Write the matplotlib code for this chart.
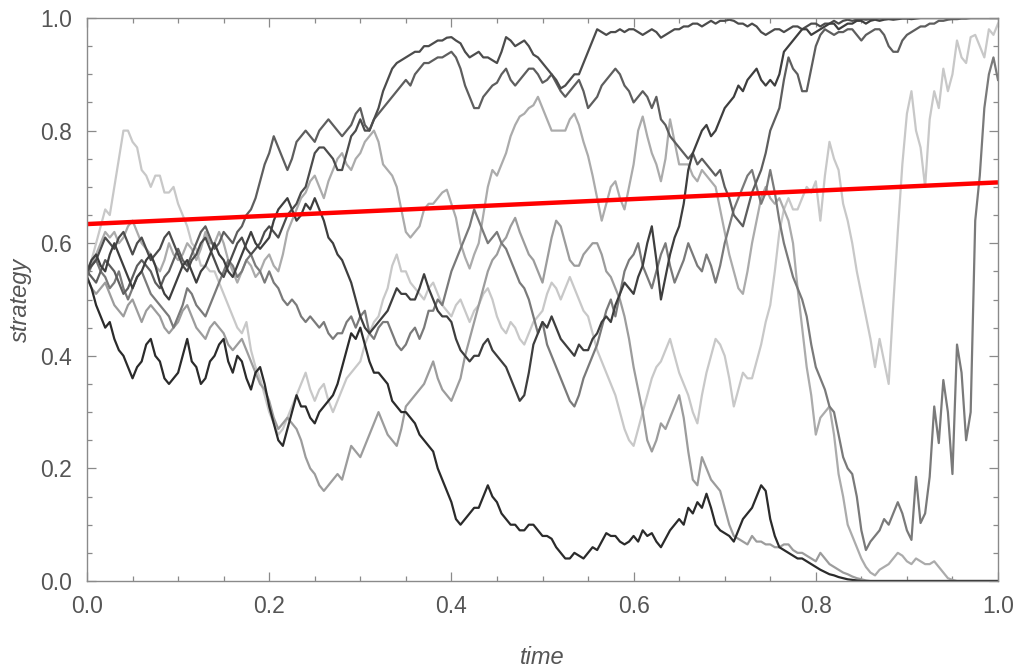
import numpy as np
import matplotlib
matplotlib.use("Agg")
import matplotlib.pyplot as plt
from matplotlib.ticker import MultipleLocator

# time grid, one sample every 0.005
t = np.linspace(0, 1, 201)

# strategy paths, darkest first
path_a = [
    0.54, 0.52, 0.49, 0.47, 0.45, 0.46, 0.43, 0.41, 0.40, 0.38,
    0.36, 0.38, 0.39, 0.42, 0.43, 0.40, 0.39, 0.36, 0.35, 0.36,
    0.37, 0.40, 0.43, 0.39, 0.38, 0.35, 0.36, 0.39, 0.40, 0.42,
    0.43, 0.39, 0.37, 0.40, 0.39, 0.36, 0.34, 0.37, 0.38, 0.35,
    0.31, 0.28, 0.25, 0.24, 0.27, 0.30, 0.33, 0.31, 0.31, 0.29,
    0.28, 0.30, 0.31, 0.32, 0.33, 0.35, 0.38, 0.41, 0.44, 0.43,
    0.45, 0.42, 0.39, 0.37, 0.37, 0.36, 0.35, 0.32, 0.31, 0.30,
    0.30, 0.29, 0.28, 0.26, 0.25, 0.24, 0.23, 0.20, 0.18, 0.16,
    0.14, 0.11, 0.10, 0.11, 0.12, 0.13, 0.13, 0.15, 0.17, 0.15,
    0.14, 0.12, 0.11, 0.10, 0.10, 0.09, 0.09, 0.10, 0.10, 0.09,
    0.08, 0.08, 0.075, 0.06, 0.05, 0.04, 0.04, 0.05, 0.045, 0.04,
    0.05, 0.06, 0.055, 0.07, 0.085, 0.08, 0.08, 0.07, 0.065, 0.07,
    0.08, 0.07, 0.09, 0.08, 0.085, 0.07, 0.06, 0.075, 0.09, 0.10,
    0.11, 0.10, 0.13, 0.12, 0.14, 0.13, 0.155, 0.13, 0.10, 0.09,
    0.085, 0.08, 0.07, 0.09, 0.11, 0.12, 0.13, 0.15, 0.17, 0.16,
    0.11, 0.08, 0.06, 0.055, 0.05, 0.045, 0.04, 0.04, 0.035, 0.03,
    0.025, 0.02, 0.016, 0.012, 0.01, 0.007, 0.005, 0.003, 0.002, 0.001,
    0, 0, 0, 0, 0, 0, 0, 0, 0, 0,
    0, 0, 0, 0, 0, 0, 0, 0, 0, 0,
    0, 0, 0, 0, 0, 0, 0, 0, 0, 0,
    0]

path_b = [
    0.55, 0.57, 0.58, 0.56, 0.55, 0.58, 0.60, 0.58, 0.56, 0.54,
    0.52, 0.54, 0.55, 0.57, 0.58, 0.56, 0.53, 0.51, 0.50, 0.52,
    0.54, 0.56, 0.57, 0.55, 0.53, 0.55, 0.56, 0.58, 0.60, 0.58,
    0.57, 0.55, 0.54, 0.56, 0.58, 0.60, 0.62, 0.60, 0.59, 0.60,
    0.61, 0.64, 0.66, 0.67, 0.68, 0.66, 0.64, 0.65, 0.67, 0.66,
    0.68, 0.66, 0.64, 0.61, 0.60, 0.58, 0.57, 0.55, 0.53, 0.50,
    0.47, 0.45, 0.44, 0.45, 0.46, 0.47, 0.48, 0.50, 0.52, 0.51,
    0.51, 0.50, 0.50, 0.52, 0.545, 0.52, 0.50, 0.48, 0.47, 0.47,
    0.46, 0.43, 0.41, 0.40, 0.39, 0.40, 0.40, 0.42, 0.43, 0.41,
    0.40, 0.39, 0.38, 0.36, 0.34, 0.32, 0.33, 0.37, 0.42, 0.44,
    0.46, 0.45, 0.47, 0.45, 0.43, 0.42, 0.41, 0.40, 0.42, 0.41,
    0.41, 0.43, 0.44, 0.46, 0.47, 0.46, 0.49, 0.51, 0.53, 0.52,
    0.51, 0.54, 0.56, 0.60, 0.63, 0.57, 0.50, 0.54, 0.58, 0.61,
    0.63, 0.67, 0.73, 0.76, 0.78, 0.80, 0.81, 0.79, 0.80, 0.82,
    0.84, 0.85, 0.86, 0.88, 0.87, 0.89, 0.90, 0.91, 0.89, 0.88,
    0.89, 0.88, 0.90, 0.94, 0.95, 0.96, 0.97, 0.98, 0.98, 0.97,
    0.975, 0.98, 0.985, 0.99, 0.99, 0.98, 0.985, 0.99, 0.99, 0.995,
    0.995, 0.99, 0.995, 0.997, 0.995, 0.997, 0.998, 0.997, 0.998, 0.999,
    0.999, 0.998, 0.999, 1.0, 1.0, 1.0, 1.0, 1.0, 1.0, 1.0,
    1.0, 1.0, 1.0, 1.0, 1.0, 1.0, 1.0, 1.0, 1.0, 1.0,
    1.0]

path_c = [
    0.55, 0.54, 0.53, 0.55, 0.57, 0.56, 0.55, 0.53, 0.51, 0.52,
    0.54, 0.56, 0.57, 0.56, 0.55, 0.53, 0.52, 0.54, 0.55, 0.57,
    0.59, 0.57, 0.56, 0.58, 0.60, 0.62, 0.63, 0.61, 0.59, 0.60,
    0.62, 0.61, 0.60, 0.62, 0.63, 0.65, 0.66, 0.68, 0.71, 0.74,
    0.76, 0.79, 0.77, 0.75, 0.73, 0.75, 0.78, 0.79, 0.80, 0.79,
    0.78, 0.80, 0.81, 0.82, 0.81, 0.80, 0.79, 0.80, 0.81, 0.83,
    0.84, 0.81, 0.80, 0.82, 0.83, 0.84, 0.85, 0.86, 0.87, 0.88,
    0.89, 0.88, 0.90, 0.91, 0.92, 0.92, 0.925, 0.93, 0.93, 0.935,
    0.94, 0.93, 0.91, 0.88, 0.86, 0.84, 0.84, 0.86, 0.87, 0.88,
    0.885, 0.90, 0.91, 0.89, 0.88, 0.89, 0.90, 0.91, 0.91, 0.90,
    0.885, 0.89, 0.90, 0.885, 0.87, 0.86, 0.87, 0.88, 0.89, 0.87,
    0.84, 0.85, 0.86, 0.88, 0.89, 0.90, 0.91, 0.90, 0.88, 0.87,
    0.85, 0.86, 0.87, 0.86, 0.84, 0.86, 0.82, 0.81, 0.79, 0.78,
    0.77, 0.76, 0.75, 0.76, 0.74, 0.75, 0.74, 0.73, 0.72, 0.73,
    0.70, 0.68, 0.65, 0.64, 0.63, 0.66, 0.69, 0.71, 0.73, 0.76,
    0.80, 0.82, 0.84, 0.89, 0.93, 0.91, 0.90, 0.87, 0.87, 0.91,
    0.95, 0.97, 0.98, 0.975, 0.97, 0.975, 0.975, 0.98, 0.98, 0.97,
    0.96, 0.97, 0.975, 0.98, 0.98, 0.97, 0.95, 0.94, 0.94, 0.96,
    0.97, 0.975, 0.98, 0.985, 0.985, 0.99, 0.99, 0.995, 0.995, 0.997,
    0.998, 0.998, 0.999, 0.999, 1.0, 1.0, 1.0, 1.0, 1.0, 1.0,
    1.0]

path_d = [
    0.55, 0.56, 0.57, 0.59, 0.61, 0.60, 0.59, 0.61, 0.62, 0.60,
    0.58, 0.60, 0.61, 0.59, 0.57, 0.58, 0.59, 0.61, 0.62, 0.60,
    0.58, 0.56, 0.55, 0.57, 0.58, 0.60, 0.61, 0.59, 0.57, 0.55,
    0.54, 0.56, 0.58, 0.60, 0.61, 0.59, 0.58, 0.59, 0.60, 0.62,
    0.63, 0.62, 0.61, 0.63, 0.65, 0.66, 0.67, 0.69, 0.70, 0.73,
    0.76, 0.77, 0.77, 0.76, 0.75, 0.73, 0.73, 0.76, 0.79, 0.80,
    0.82, 0.80, 0.80, 0.82, 0.84, 0.87, 0.89, 0.91, 0.92, 0.925,
    0.93, 0.935, 0.94, 0.94, 0.95, 0.95, 0.955, 0.96, 0.96, 0.965,
    0.966, 0.96, 0.955, 0.94, 0.93, 0.935, 0.94, 0.93, 0.93, 0.925,
    0.92, 0.94, 0.966, 0.96, 0.95, 0.955, 0.96, 0.95, 0.935, 0.93,
    0.92, 0.91, 0.90, 0.89, 0.875, 0.88, 0.89, 0.90, 0.90, 0.92,
    0.94, 0.96, 0.98, 0.975, 0.97, 0.975, 0.975, 0.98, 0.975, 0.98,
    0.98, 0.975, 0.97, 0.975, 0.98, 0.975, 0.965, 0.97, 0.975, 0.98,
    0.98, 0.985, 0.985, 0.99, 0.99, 0.985, 0.99, 0.995, 0.99, 0.995,
    0.995, 0.997, 0.995, 0.99, 0.99, 0.985, 0.99, 0.985, 0.975, 0.97,
    0.975, 0.98, 0.98, 0.975, 0.98, 0.985, 0.985, 0.98, 0.985, 0.99,
    0.99, 0.985, 0.99, 0.99, 0.995, 0.99, 0.995, 0.997, 0.995, 0.997,
    0.998, 0.997, 0.998, 0.999, 0.999, 0.999, 1.0, 1.0, 1.0, 1.0,
    1.0, 1.0, 1.0, 1.0, 1.0, 1.0, 1.0, 1.0, 1.0, 1.0,
    1.0, 1.0, 1.0, 1.0, 1.0, 1.0, 1.0, 1.0, 1.0, 1.0,
    1.0]

path_e = [
    0.54, 0.52, 0.51, 0.52, 0.53, 0.51, 0.49, 0.48, 0.47, 0.49,
    0.50, 0.48, 0.46, 0.48, 0.49, 0.48, 0.47, 0.45, 0.44, 0.45,
    0.46, 0.48, 0.49, 0.47, 0.45, 0.44, 0.43, 0.45, 0.46, 0.45,
    0.44, 0.42, 0.41, 0.42, 0.43, 0.41, 0.39, 0.37, 0.35, 0.34,
    0.32, 0.29, 0.27, 0.28, 0.29, 0.28, 0.27, 0.25, 0.22, 0.20,
    0.19, 0.17, 0.16, 0.17, 0.18, 0.19, 0.18, 0.21, 0.24, 0.23,
    0.22, 0.24, 0.26, 0.28, 0.30, 0.28, 0.26, 0.25, 0.24, 0.27,
    0.31, 0.32, 0.33, 0.34, 0.35, 0.37, 0.39, 0.36, 0.34, 0.33,
    0.32, 0.34, 0.36, 0.40, 0.43, 0.46, 0.49, 0.52, 0.55, 0.57,
    0.58, 0.60, 0.61, 0.63, 0.645, 0.62, 0.60, 0.58, 0.57, 0.55,
    0.53, 0.57, 0.61, 0.64, 0.63, 0.60, 0.57, 0.56, 0.56, 0.58,
    0.59, 0.60, 0.60, 0.58, 0.55, 0.54, 0.52, 0.50, 0.47, 0.43,
    0.38, 0.34, 0.30, 0.25, 0.23, 0.25, 0.28, 0.27, 0.29, 0.31,
    0.33, 0.29, 0.23, 0.18, 0.17, 0.22, 0.20, 0.18, 0.17, 0.16,
    0.13, 0.10, 0.08, 0.075, 0.07, 0.065, 0.08, 0.07, 0.07, 0.065,
    0.065, 0.06, 0.06, 0.065, 0.065, 0.055, 0.05, 0.05, 0.045, 0.04,
    0.035, 0.05, 0.04, 0.03, 0.025, 0.02, 0.015, 0.012, 0.008, 0.005,
    0.003, 0.001, 0, 0, 0, 0, 0, 0, 0, 0,
    0, 0, 0, 0, 0, 0, 0, 0, 0, 0,
    0, 0, 0, 0, 0, 0, 0, 0, 0, 0,
    0]

path_f = [
    0.54, 0.56, 0.57, 0.55, 0.54, 0.52, 0.53, 0.55, 0.52, 0.50,
    0.52, 0.54, 0.55, 0.53, 0.51, 0.50, 0.49, 0.48, 0.47, 0.45,
    0.47, 0.49, 0.52, 0.51, 0.49, 0.48, 0.47, 0.49, 0.51, 0.53,
    0.55, 0.57, 0.56, 0.54, 0.55, 0.57, 0.58, 0.56, 0.55, 0.53,
    0.55, 0.53, 0.52, 0.50, 0.49, 0.50, 0.49, 0.47, 0.46, 0.47,
    0.46, 0.45, 0.46, 0.44, 0.43, 0.44, 0.44, 0.46, 0.47, 0.45,
    0.47, 0.48, 0.44, 0.43, 0.45, 0.46, 0.46, 0.44, 0.42, 0.41,
    0.42, 0.44, 0.45, 0.43, 0.45, 0.48, 0.48, 0.50, 0.49, 0.52,
    0.55, 0.57, 0.59, 0.61, 0.63, 0.66, 0.64, 0.62, 0.60, 0.61,
    0.62, 0.60, 0.59, 0.57, 0.55, 0.53, 0.52, 0.50, 0.47, 0.44,
    0.46, 0.42, 0.40, 0.38, 0.36, 0.34, 0.32, 0.31, 0.33, 0.36,
    0.38, 0.40, 0.42, 0.45, 0.48, 0.50, 0.47, 0.51, 0.55, 0.57,
    0.58, 0.60, 0.56, 0.54, 0.52, 0.55, 0.58, 0.60, 0.56, 0.53,
    0.55, 0.57, 0.60, 0.58, 0.56, 0.55, 0.58, 0.56, 0.53, 0.56,
    0.60, 0.63, 0.66, 0.68, 0.70, 0.72, 0.73, 0.70, 0.67, 0.69,
    0.73, 0.69, 0.64, 0.60, 0.57, 0.54, 0.52, 0.50, 0.47, 0.42,
    0.38, 0.36, 0.34, 0.31, 0.30, 0.26, 0.22, 0.20, 0.19, 0.15,
    0.09, 0.055, 0.07, 0.08, 0.09, 0.11, 0.10, 0.12, 0.14, 0.12,
    0.09, 0.073, 0.185, 0.103, 0.12, 0.185, 0.31, 0.245, 0.357, 0.30,
    0.19, 0.42, 0.37, 0.25, 0.30, 0.64, 0.72, 0.84, 0.90, 0.93,
    0.89]

path_g = [
    0.55, 0.57, 0.60, 0.63, 0.66, 0.65, 0.70, 0.75, 0.80, 0.80,
    0.78, 0.77, 0.73, 0.72, 0.70, 0.72, 0.72, 0.69, 0.69, 0.70,
    0.67, 0.65, 0.63, 0.60, 0.59, 0.56, 0.56, 0.55, 0.55, 0.53,
    0.51, 0.49, 0.47, 0.45, 0.44, 0.46, 0.41, 0.38, 0.36, 0.33,
    0.30, 0.28, 0.26, 0.27, 0.29, 0.31, 0.33, 0.35, 0.37, 0.34,
    0.32, 0.34, 0.35, 0.32, 0.30, 0.32, 0.34, 0.36, 0.37, 0.38,
    0.39, 0.42, 0.44, 0.46, 0.47, 0.50, 0.52, 0.56, 0.58, 0.55,
    0.55, 0.53, 0.52, 0.51, 0.50, 0.52, 0.53, 0.51, 0.49, 0.48,
    0.47, 0.49, 0.50, 0.48, 0.46, 0.48, 0.49, 0.51, 0.52, 0.50,
    0.47, 0.45, 0.44, 0.46, 0.45, 0.43, 0.42, 0.44, 0.46, 0.47,
    0.48, 0.51, 0.53, 0.52, 0.50, 0.52, 0.54, 0.52, 0.50, 0.48,
    0.47, 0.44, 0.41, 0.39, 0.37, 0.35, 0.33, 0.30, 0.27, 0.25,
    0.24, 0.27, 0.30, 0.33, 0.36, 0.38, 0.39, 0.41, 0.43, 0.40,
    0.37, 0.35, 0.33, 0.30, 0.28, 0.33, 0.37, 0.40, 0.43, 0.42,
    0.40, 0.36, 0.31, 0.34, 0.37, 0.36, 0.36, 0.39, 0.42, 0.46,
    0.49, 0.55, 0.62, 0.66, 0.68, 0.66, 0.66, 0.68, 0.70, 0.69,
    0.71, 0.64, 0.72, 0.78, 0.75, 0.73, 0.67, 0.64, 0.60, 0.55,
    0.51, 0.47, 0.43, 0.38, 0.43, 0.39, 0.35, 0.49, 0.62, 0.74,
    0.83, 0.87, 0.80, 0.77, 0.70, 0.82, 0.87, 0.84, 0.91, 0.87,
    0.90, 0.96, 0.93, 0.92, 0.966, 0.97, 0.95, 0.93, 0.98, 0.97,
    0.99]

path_h = [
    0.55, 0.56, 0.58, 0.60, 0.62, 0.61, 0.62, 0.60, 0.61, 0.63,
    0.64, 0.62, 0.60, 0.59, 0.58, 0.56, 0.55, 0.57, 0.60, 0.58,
    0.57, 0.58, 0.60, 0.59, 0.57, 0.59, 0.62, 0.60, 0.60, 0.62,
    0.60, 0.57, 0.55, 0.53, 0.55, 0.57, 0.56, 0.54, 0.55, 0.57,
    0.58, 0.56, 0.55, 0.58, 0.62, 0.64, 0.66, 0.68, 0.69, 0.71,
    0.72, 0.70, 0.68, 0.71, 0.73, 0.75, 0.76, 0.74, 0.73, 0.75,
    0.76, 0.78, 0.79, 0.80, 0.78, 0.74, 0.73, 0.72, 0.70, 0.66,
    0.62, 0.61, 0.62, 0.63, 0.66, 0.67, 0.67, 0.68, 0.69, 0.695,
    0.67, 0.645, 0.60, 0.575, 0.555, 0.58, 0.60, 0.65, 0.70, 0.73,
    0.72, 0.74, 0.76, 0.79, 0.81, 0.825, 0.83, 0.84, 0.845, 0.86,
    0.84, 0.82, 0.80, 0.80, 0.80, 0.80, 0.82, 0.83, 0.81, 0.78,
    0.755, 0.72, 0.68, 0.64, 0.67, 0.70, 0.71, 0.68, 0.66, 0.70,
    0.74, 0.80, 0.825, 0.79, 0.76, 0.74, 0.71, 0.75, 0.82, 0.78,
    0.74, 0.74, 0.74, 0.72, 0.71, 0.73, 0.72, 0.71, 0.70, 0.66,
    0.62, 0.58, 0.55, 0.52, 0.51, 0.55, 0.60, 0.64, 0.68, 0.70,
    0.68, 0.67, 0.68, 0.66, 0.64, 0.60, 0.52, 0.45, 0.38, 0.33,
    0.26, 0.29, 0.30, 0.31, 0.26, 0.19, 0.15, 0.10, 0.08, 0.06,
    0.04, 0.025, 0.015, 0.01, 0.02, 0.025, 0.03, 0.04, 0.05, 0.045,
    0.035, 0.03, 0.04, 0.035, 0.03, 0.03, 0.035, 0.025, 0.015, 0.005,
    0.002, 0, 0, 0, 0, 0, 0, 0, 0, 0,
    0]

paths = [path_g, path_h, path_e, path_f, path_c, path_d, path_b, path_a]
shades = ["#c8c8c8", "#ababab", "#9c9c9c", "#7a7a7a",
          "#5e5e5e", "#4c4c4c", "#3e3e3e", "#2b2b2b"]

# linear trend line end points
trend_t = [0.0, 1.0]
trend_v = [0.634, 0.708]

frame_col = "#8a8a8a"
text_col = "#555555"

fig = plt.figure(figsize=(10.2, 6.69), dpi=100)
ax = fig.add_axes([87 / 1020, 1 - 581 / 669, 911 / 1020, 563 / 669])

for p, c in zip(paths, shades):
    ax.plot(t, p, color=c, lw=1.6, solid_joinstyle="round")

ax.plot(trend_t, trend_v, color="#ff0000", lw=3.2, solid_capstyle="butt")

ax.set_xlim(0, 1)
ax.set_ylim(0, 1)

ax.xaxis.set_major_locator(MultipleLocator(0.2))
ax.yaxis.set_major_locator(MultipleLocator(0.2))
ax.xaxis.set_minor_locator(MultipleLocator(0.05))
ax.yaxis.set_minor_locator(MultipleLocator(0.05))
ax.xaxis.set_major_formatter(lambda v, pos: f"{v:.1f}")
ax.yaxis.set_major_formatter(lambda v, pos: f"{v:.1f}")

ax.tick_params(which="both", direction="in", top=True, right=True,
               color=frame_col, width=0.9)
ax.tick_params(which="major", length=6.5, labelsize=16.5, labelcolor=text_col)
ax.tick_params(which="minor", length=3.8)
ax.tick_params(axis="x", which="major", pad=10)
ax.tick_params(axis="y", which="major", pad=11)

for lbl in ax.get_xticklabels() + ax.get_yticklabels():
    lbl.set_family("Liberation Sans")

for s in ax.spines.values():
    s.set_color(frame_col)
    s.set_linewidth(1.0)

ax.set_xlabel("time", fontsize=17, style="italic", color=text_col,
              family="Liberation Sans", labelpad=20)
ax.set_ylabel("strategy", fontsize=17, style="italic", color=text_col,
              family="Liberation Sans", labelpad=6)

fig.savefig("out.png", dpi=100)
